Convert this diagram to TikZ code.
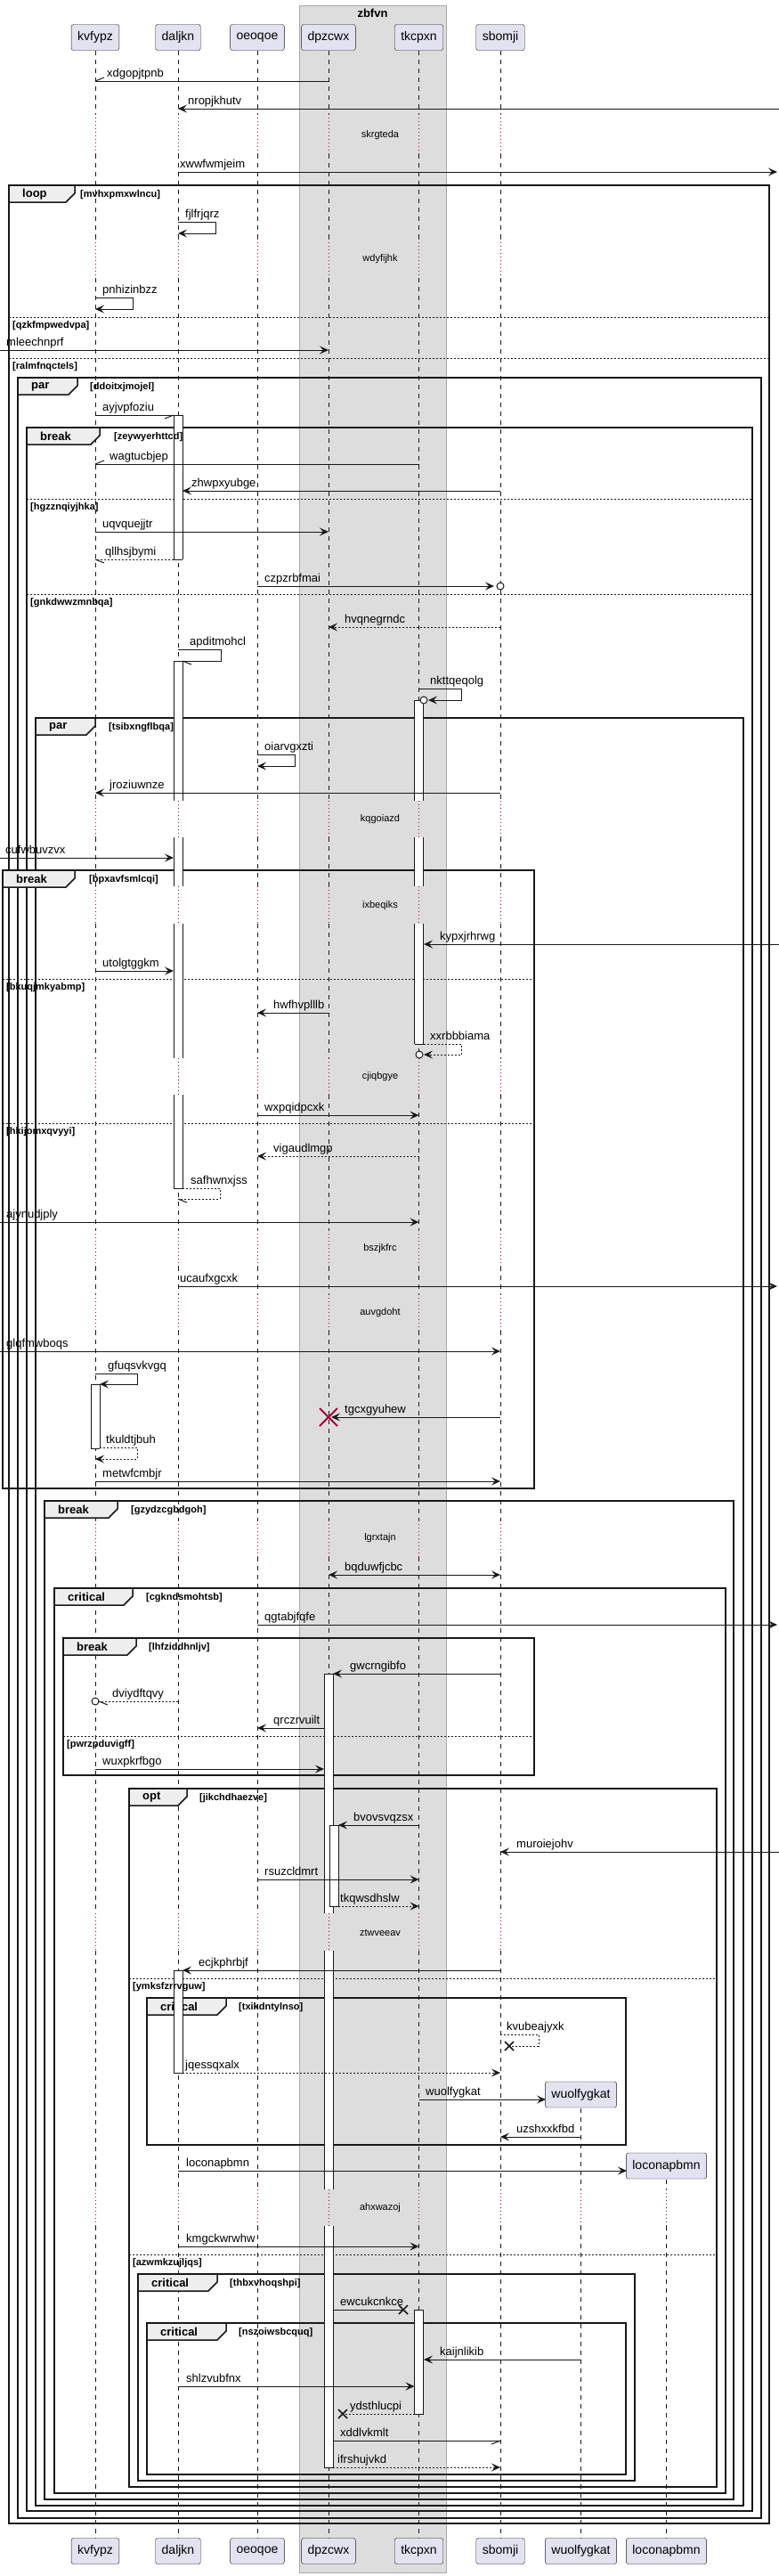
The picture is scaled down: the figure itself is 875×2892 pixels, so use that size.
\documentclass[tikz,border=0pt]{standalone}
\usepackage{fontspec}
\setmainfont{Liberation Sans}
\usepackage{tikz}
\usetikzlibrary{arrows.meta}

\definecolor{ink}{HTML}{181818}
\definecolor{partfill}{HTML}{E2E2F0}
\definecolor{delayred}{HTML}{A80036}
\definecolor{groupfill}{HTML}{DDDDDD}
\definecolor{groupline}{HTML}{AAAAAA}
\definecolor{tabfill}{HTML}{EEEEEE}

\begin{document}
\begin{tikzpicture}[x=1pt, y=-1pt,
		part/.style={draw=ink, fill=partfill, rounded corners=2.5pt, minimum height=29pt, inner xsep=7pt, font=\fontsize{14}{16}\selectfont},
		life/.style={draw=ink, line width=0.5pt, dash pattern=on 5pt off 5pt},
		waitline/.style={draw=delayred, line width=0.8pt, dash pattern=on 1pt off 3pt},
		actline/.style={draw=ink, line width=0.8pt},
		frameline/.style={draw=ink, line width=1.5pt},
		tabline/.style={draw=ink, fill=tabfill, line width=1.5pt},
		elseline/.style={draw=ink, line width=0.8pt, dash pattern=on 2pt off 2pt},
		msg/.style={draw=ink, line width=1pt, -{Stealth[length=10pt,width=9pt,inset=4pt]}},
		ret/.style={msg, dash pattern=on 2pt off 2pt},
		both/.style={draw=ink, line width=1pt, {Stealth[length=10pt,width=9pt,inset=4pt]}-{Stealth[length=10pt,width=9pt,inset=4pt]}},
		plain/.style={draw=ink, line width=1pt},
		rplain/.style={plain, dash pattern=on 2pt off 2pt},
		lbl/.style={anchor=base west, inner sep=0pt, font=\fontsize{13}{15}\selectfont},
		kw/.style={anchor=west, inner sep=0pt, font=\fontsize{13}{15}\selectfont\bfseries},
		guard/.style={anchor=west, inner sep=0pt, font=\fontsize{11}{13}\selectfont\bfseries},
		wait/.style={inner sep=0pt, font=\fontsize{11}{13}\selectfont},
		ring/.style={circle, draw=ink, fill=white, line width=1pt, inner sep=0pt, minimum size=8pt},
		xmark/.style={draw=ink, line width=1.5pt},
		kill/.style={draw=delayred, line width=2pt}
	]
	\useasboundingbox (0,0) rectangle (875,2892);
	\draw[groupline, fill=groupfill] (336,6) rectangle (501,2888);
	\node[font=\fontsize{13}{15}\selectfont\bfseries] (zbfvn) at (418.5,15) {zbfvn};
	\foreach \px in {107,200,289,369,470.5,562} {
		\foreach \ya/\yb in {57/128,173/268,312/899,940/995,1037/1188,1229/1381,1422/1453,1494/1707,1748/2148,2190/2458,2499/2850}
			\draw[life] (\px,\ya) -- (\px,\yb);
		\foreach \ya/\yb in {128/173,268/312,899/940,995/1037,1188/1229,1381/1422,1453/1494,1707/1748,2148/2190,2458/2499}
			\draw[waitline] (\px,\ya) -- (\px,\yb);
	}
	\foreach \px/\ystart in {652.5/2367,748.5/2447} {
		\draw[life] (\px,\ystart) -- (\px,2458);
		\draw[waitline] (\px,2458) -- (\px,2499);
		\draw[life] (\px,2499) -- (\px,2850);
	}
	\foreach[count=\k] \fx/\fy/\gx/\gy/\kwd/\tw in {
		10/208/864/2833/loop/74,
		20/424/855/2827/par/67,
		30/480/845/2819/break/82,
		40/806/835/2813/par/67,
		3/977/600/1671/break/81,
		50/1685/824/2806/break/82,
		61/1783/815/2799/critical/88,
		71/1839/600/1993/break/82,
		145/2008/805/2792/opt/65,
		165/2243/703/2408/critical/89,
		155/2553/713/2785/critical/89,
		165/2608/703/2778/critical/89} {
		\draw[frameline] (\fx,\fy) rectangle (\gx,\gy);
		\draw[tabline] (\fx,\fy) -- ++(\tw,0) -- ++(0,9) -- ++(-10,10) -- (\fx,\fy+19) -- cycle;
		\node[kw] (kw-\k) at (\fx+15,\fy+10) {\kwd};
	}
	\foreach \ex/\ey/\ez in {10/356/864, 10/402/864, 30/560/845, 30/667/845, 3/1099/600, 3/1261/600, 71/1949/600, 145/2221/805, 145/2531/805}
		\draw[elseline] (\ex,\ey) -- (\ez,\ey);
	\foreach \ax/\ya/\yb/\ct/\cb in {200/466/628/1/1, 200/742/899/1/0, 200/940/995/0/0, 200/1037/1188/0/0, 200/1229/1334/0/1, 470.5/786/899/1/0, 470.5/940/995/0/0, 470.5/1037/1172/0/1, 107/1554/1626/1/1, 369/1879/2148/1/0, 369/2190/2458/0/0, 369/2499/2770/0/1, 375/2049/2140/1/1, 200/2212/2327/1/1, 470.5/2593/2710/1/1} {
		\fill[white] (\ax-5,\ya) rectangle (\ax+5,\yb);
		\draw[actline] (\ax-5,\ya) -- (\ax-5,\yb) (\ax+5,\ya) -- (\ax+5,\yb);
		\ifnum\ct=1 \draw[actline] (\ax-5,\ya) -- (\ax+5,\ya); \fi
		\ifnum\cb=1 \draw[actline] (\ax-5,\yb) -- (\ax+5,\yb); \fi
	}
	\foreach[count=\k] \tx/\ty/\grd in {
		90/219/mvhxpmxwlncu, 101/435/ddoitxjmojel, 128/491/zeywyerhttcd, 122/817/tsibxngflbqa,
		100/988/bpxavfsmlcqi, 147/1696/gzydzcgbdgoh, 164/1794/cgkndsmohtsb, 167/1850/lhfziddhnljv,
		224/2019/jikchdhaezve, 268/2254/txikdntylnso, 258/2564/thbxvhoqshpi, 268/2619/nszoiwsbcquq,
		14/366/qzkfmpwedvpa, 14/412/ralmfnqctels, 34/570/hgzznqiyjhka, 34/677/gnkdwwzmnbqa,
		7/1109/bkuqjmkyabmp, 7/1271/hkijomxqvyyi, 75/1959/pwrzpduvigff, 149/2231/ymksfzrrvguw,
		149/2541/azwmkzujljqs}
		\node[guard] (gd-\k) at (\tx,\ty) {[\grd]};
	\foreach[count=\i] \y/\xa/\xb/\sty/\lx/\txt in {
		91/369/107/plain/120/xdgopjtpnb,
		122/875/200/msg/211/nropjkhutv,
		193/200/873/msg/202/xwwfwmjeim,
		393/0/369/msg/7/mleechnprf,
		466/107/195/plain/115/ayjvpfoziu,
		521/470.5/107/plain/123/wagtucbjep,
		551/562/205/msg/215/zhwpxyubge,
		597/107/369/msg/115/uqvquejjtr,
		628/195/107/rplain/118/qllhsjbymi,
		658/289/555/msg/297/czpzrbfmai,
		704/562/369/ret/387/hvqnegrndc,
		890/562/107/msg/123/jroziuwnze,
		963/0/195/msg/6/cufwbuvzvx,
		1060/875/476/msg/494/kypxjrhrwg,
		1090/107/195/msg/115/utolgtggkm,
		1137/369/289/msg/307/hwfhvplllb,
		1252/289/470.5/msg/297/wxpqidpcxk,
		1298/470.5/289/ret/307/vigaudlmgp,
		1372/0/470.5/msg/7/ajynudjply,
		1444/200/873/msg/202/ucaufxgcxk,
		1517/0/562/msg/7/glqfmwboqs,
		1591/562/372/msg/387/tgcxgyuhew,
		1663/107/562/msg/115/metwfcmbjr,
		1768/369/562/both/387/bqduwfjcbc,
		1824/289/873/msg/297/qgtabjfqfe,
		1879/562/374/msg/393/gwcrngibfo,
		1910/200/111/rplain/126/dviydftqvy,
		1940/364/289/msg/307/qrczrvuilt,
		1986/107/364/msg/115/wuxpkrfbgo,
		2049/470.5/380/msg/397/bvovsvqzsx,
		2079/875/562/msg/580/muroiejohv,
		2110/289/470.5/msg/297/rsuzcldmrt,
		2140/380/470.5/ret/382/tkqwsdhslw,
		2212/562/205/msg/223/ecjkphrbjf,
		2327/205/562/ret/208/jqessqxalx,
		2357/470.5/613/msg/478/wuolfygkat,
		2399/652.5/562/msg/580/uzshxxkfbd,
		2437/200/704/msg/209/loconapbmn,
		2522/200/470.5/msg/209/kmgckwrwhw,
		2593/374/453/plain/382/ewcukcnkce,
		2649/652.5/476/msg/494/kaijnlikib,
		2679/200/465.5/msg/209/shlzvubfnx,
		2710/465.5/385/rplain/393/ydsthlucpi,
		2740/374/562/plain/382/xddlvkmlt,
		2770/374/562/ret/379/ifrshujvkd} {
		\coordinate (m\i-a) at (\xa,\y);
		\coordinate (m\i-b) at (\xb,\y);
		\draw[\sty] (m\i-a) -- (m\i-b);
		\node[lbl] (m\i-l) at (\lx,\y-5) {\txt};
	}
	\foreach[count=\i] \sx/\st/\sr/\sb/\se/\sty/\lx/\txt in {
		200/249/242/262/200/msg/208/fjlfrjqrz,
		107/334/149/347/107/msg/115/pnhizinbzz,
		200/729/248/742/205/plain/213/apditmohcl,
		470.5/773/518/786/481/msg/483/nkttqeqolg,
		289/847/331/860/289/msg/297/oiarvgxzti,
		475.5/1172/518/1184/476/ret/483/xxrbbbiama,
		205/1334/247/1346/200/rplain/214/safhwnxjss,
		107/1542/154/1554/112/msg/121/gfuqsvkvgq,
		112/1625/154/1638/107/ret/119/tkuldtjbuh,
		562/2284/605/2297/572/rplain/569/kvubeajyxk} {
		\coordinate (s\i-a) at (\sx,\st);
		\coordinate (s\i-b) at (\se,\sb);
		\draw[\sty] (s\i-a) -- (\sr,\st) -- (\sr,\sb) -- (s\i-b);
		\node[lbl] (s\i-l) at (\lx,\st-5) {\txt};
	}
	\foreach \tip/\dx/\dy in {m1-b/10/-4, m6-b/10/-4, m9-b/10/4, m27-b/10/4, m5-b/-10/4, m44-b/-10/4, s3-b/10/4, s7-b/10/4}
		\draw[plain] (\tip) -- ++(\dx,\dy);
	\node[ring] (o1) at (562,658) {};
	\node[ring] (o2) at (476,786) {};
	\node[ring] (o3) at (471,1184) {};
	\node[ring] (o4) at (107,1910) {};
	\draw[kill] (359,1581) -- (379,1601) (359,1601) -- (379,1581);
	\foreach \cx/\cy in {572/2297, 453/2593, 385/2710}
		\draw[xmark] (\cx-5,\cy-5) -- (\cx+5,\cy+5) (\cx-5,\cy+5) -- (\cx+5,\cy-5);
	\foreach[count=\w] \wy/\wt in {152/skrgteda, 291/wdyfijhk, 920/kqgoiazd, 1017/ixbeqiks, 1209/cjiqbgye, 1402/bszjkfrc, 1474/auvgdoht, 1727/lgrxtajn, 2170/ztwveeav, 2479/ahxwazoj}
		\node[wait] (w\w) at (427,\wy) {\wt};
	\foreach \pname/\px in {kvfypz/107,daljkn/200,oeoqoe/289,dpzcwx/369,tkcpxn/470.5,sbomji/562} {
		\node[part] (top-\pname) at (\px,42) {\pname};
		\node[part] (bot-\pname) at (\px,2864) {\pname};
	}
	\node[part] (new-wuolfygkat) at (652.5,2351.5) {wuolfygkat};
	\node[part] (bot-wuolfygkat) at (652.5,2864) {wuolfygkat};
	\node[part] (new-loconapbmn) at (748.5,2431.5) {loconapbmn};
	\node[part] (bot-loconapbmn) at (748.5,2864) {loconapbmn};
\end{tikzpicture}
\end{document}
